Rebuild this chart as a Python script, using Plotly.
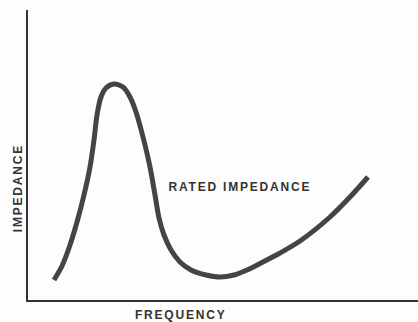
import plotly.graph_objects as go

# Impedance curve of a loudspeaker vs frequency (arbitrary units)
frequency = [26, 34, 42, 49, 56, 62, 66, 69, 73, 78, 86, 95, 102, 108, 115,
             122, 127, 131, 136, 143, 152, 163, 178, 192, 206, 219, 233, 252,
             272, 302, 322, 340]
impedance = [20, 34, 55, 78, 105, 133, 160, 185, 203, 212, 216, 213, 203, 188,
             163, 133, 105, 82, 65, 50, 38, 30, 25, 23, 25, 30, 37, 47, 59, 83,
             103, 123]

line_color = "#444444"
text_color = "#333333"
axis_color = "#333333"

fig = go.Figure()
fig.add_trace(go.Scatter(
    x=frequency, y=impedance, mode="lines",
    line=dict(color=line_color, width=5, shape="spline", smoothing=0.8),
    hoverinfo="skip", showlegend=False,
))

label_font = dict(size=12, family="Liberation Sans, Arial, sans-serif",
                  color=text_color, weight=700)

fig.update_layout(
    width=418, height=322,
    margin=dict(l=28, r=0, t=10, b=22),
    paper_bgcolor="#fdfdfd", plot_bgcolor="#fdfdfd",
    xaxis=dict(range=[0, 390], showline=True, linecolor=axis_color, linewidth=2,
               showgrid=False, zeroline=False, showticklabels=False, ticks=""),
    yaxis=dict(range=[0, 290], showline=True, linecolor=axis_color, linewidth=2,
               showgrid=False, zeroline=False, showticklabels=False, ticks=""),
    annotations=[
        dict(text="IMPEDANCE", xref="paper", yref="paper", x=-0.0256, y=0.386,
             textangle=-90, showarrow=False, font=label_font,
             xanchor="center", yanchor="middle"),
        dict(text="FREQUENCY", xref="paper", yref="paper", x=0.392, y=-0.052,
             showarrow=False, font=label_font, xanchor="center", yanchor="middle"),
        dict(text="RATED IMPEDANCE", x=212, y=113, showarrow=False,
             font=label_font, xanchor="center", yanchor="middle"),
    ],
)

# widen the spacing between letters of the labels
spacing_js = (
    "document.querySelectorAll('.annotation-text').forEach(function(t){"
    "t.style.letterSpacing='1.8px';});"
)

fig.write_html("out.html", post_script=spacing_js)
